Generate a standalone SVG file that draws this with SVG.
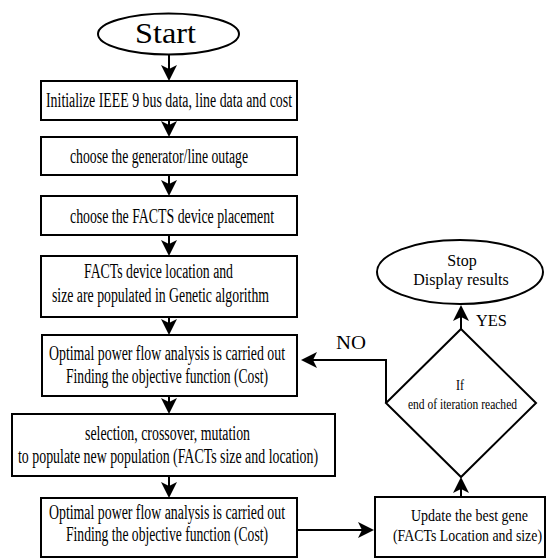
<svg xmlns="http://www.w3.org/2000/svg" width="547" height="559" viewBox="0 0 547 559">
<defs>
<style>
.shape{fill:#fff;stroke:#000;stroke-width:2}
.conn{fill:none;stroke:#000;stroke-width:2}
.t{font-size:20px}
.s{font-size:17px}
.d{font-size:15px}
</style>
<marker id="arr" viewBox="0 0 16 16" refX="14" refY="8" markerWidth="16" markerHeight="16" markerUnits="userSpaceOnUse" orient="auto">
<path d="M0,0 L16,8 L0,16 L4,8 Z" fill="#000"/>
</marker>
</defs>
<rect width="547" height="559" fill="#fff"/>
<g font-family="'Liberation Serif', 'Times New Roman', serif" fill="#000">
<g id="start">
<ellipse class="shape" cx="168.5" cy="34" rx="70.5" ry="20.5"/>
<text x="135" y="43" font-size="30" textLength="61" lengthAdjust="spacingAndGlyphs">Start</text>
</g>
<g id="init">
<rect class="shape" x="41" y="81" width="256" height="39"/>
<text class="t" x="46" y="107" textLength="246" lengthAdjust="spacingAndGlyphs">Initialize IEEE 9 bus data, line data and cost</text>
</g>
<g id="outage">
<rect class="shape" x="41" y="137" width="256" height="38"/>
<text class="t" x="70" y="163" textLength="178" lengthAdjust="spacingAndGlyphs">choose the generator/line outage</text>
</g>
<g id="placement">
<rect class="shape" x="41" y="196" width="256" height="39"/>
<text class="t" x="70" y="223" textLength="204" lengthAdjust="spacingAndGlyphs">choose the FACTS device placement</text>
</g>
<g id="populate">
<rect class="shape" x="41" y="256" width="256" height="61"/>
<text class="t" x="84" y="278" textLength="149" lengthAdjust="spacingAndGlyphs">FACTs device location and</text>
<text class="t" x="52" y="302" textLength="217" lengthAdjust="spacingAndGlyphs">size are populated in Genetic algorithm</text>
</g>
<g id="opf1">
<rect class="shape" x="42" y="335" width="255" height="61"/>
<text class="t" x="49" y="360" textLength="236" lengthAdjust="spacingAndGlyphs">Optimal power flow analysis is carried out</text>
<text class="t" x="66" y="383" textLength="202" lengthAdjust="spacingAndGlyphs">Finding the objective function (Cost)</text>
</g>
<g id="ga">
<rect class="shape" x="12" y="414" width="323" height="62"/>
<text class="t" x="85" y="440" textLength="165" lengthAdjust="spacingAndGlyphs">selection, crossover, mutation</text>
<text class="t" x="18" y="463" textLength="300" lengthAdjust="spacingAndGlyphs">to populate new population (FACTs size and location)</text>
</g>
<g id="opf2">
<rect class="shape" x="41" y="498" width="256" height="59"/>
<text class="t" x="49" y="519" textLength="236" lengthAdjust="spacingAndGlyphs">Optimal power flow analysis is carried out</text>
<text class="t" x="66" y="541" textLength="202" lengthAdjust="spacingAndGlyphs">Finding the objective function (Cost)</text>
</g>
<g id="update">
<rect class="shape" x="375" y="497" width="170" height="60"/>
<text class="s" x="411" y="521" textLength="117" lengthAdjust="spacingAndGlyphs">Update the best gene</text>
<text class="s" x="393" y="541" textLength="149" lengthAdjust="spacingAndGlyphs">(FACTs Location and size)</text>
</g>
<g id="decision">
<polygon class="shape" points="461,329 536,403 461,477 386,403"/>
<text class="d" x="456" y="390" textLength="8" lengthAdjust="spacingAndGlyphs">If</text>
<text class="d" x="408" y="409" textLength="109" lengthAdjust="spacingAndGlyphs">end of iteration reached</text>
</g>
<g id="stop">
<ellipse class="shape" cx="460" cy="272" rx="83" ry="32"/>
<text x="462" y="266" font-size="16" text-anchor="middle">Stop</text>
<text x="461" y="285" font-size="16" text-anchor="middle">Display results</text>
</g>
<g id="connectors">
<path class="conn" marker-end="url(#arr)" d="M169,55 V79"/>
<path class="conn" marker-end="url(#arr)" d="M169,121 V135"/>
<path class="conn" marker-end="url(#arr)" d="M169,176 V194"/>
<path class="conn" marker-end="url(#arr)" d="M169,236 V254"/>
<path class="conn" marker-end="url(#arr)" d="M169,318 V333"/>
<path class="conn" marker-end="url(#arr)" d="M169,397 V412"/>
<path class="conn" marker-end="url(#arr)" d="M169,477 V496"/>
<path class="conn" marker-end="url(#arr)" d="M297,530 H372"/>
<path class="conn" marker-end="url(#arr)" d="M461,496 V479"/>
<path class="conn" marker-end="url(#arr)" d="M461,329 V307"/>
<path class="conn" marker-end="url(#arr)" d="M386,403 V360 H303"/>
<text x="336" y="349" font-size="19" textLength="30" lengthAdjust="spacingAndGlyphs">NO</text>
<text x="476" y="326" font-size="17" textLength="31" lengthAdjust="spacingAndGlyphs">YES</text>
</g>
</g>
</svg>
